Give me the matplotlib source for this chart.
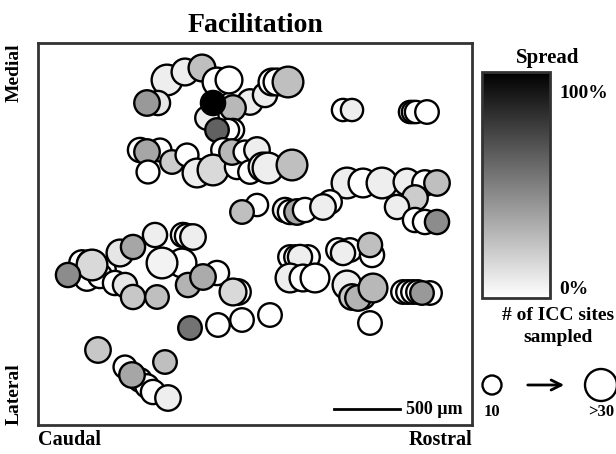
import numpy as np
import matplotlib
matplotlib.use("Agg")
import matplotlib.pyplot as plt
from matplotlib.colors import Normalize
from matplotlib.cm import ScalarMappable

plt.rcParams['font.family'] = ['Liberation Serif', 'DejaVu Serif']
plt.rcParams['font.weight'] = 'bold'

# Recording sites on the map (map units, 66 units = 500 um)
x_pos = [129, 147, 164, 179, 191, 120, 109, 169, 212, 195, 175, 195, 190, 179, 227,
         234, 239, 250, 305, 314, 372, 375, 378, 389,
         102, 122, 109, 110, 134, 149, 159, 185, 175, 199, 194, 207, 212, 219, 225, 230, 254,
         309, 325, 344, 369, 387, 399, 377, 359, 377, 387, 399,
         219, 204, 247, 252, 259, 267, 292, 285,
         117, 145, 149, 155, 44, 65, 49, 62, 52, 54, 30, 82, 95, 77, 87, 95, 119, 144, 124,
         179, 150, 165, 200, 195, 152, 180, 204, 232, 60, 127, 87, 102, 109, 94, 115, 130,
         252, 258, 270, 262, 252, 265, 277, 300, 312, 334, 305, 332, 309, 325, 314, 320, 335,
         365, 370, 375, 380, 392, 384, 332]
y_pos = [345, 353, 357, 343, 345, 322, 322, 307, 323, 317, 322, 295, 295, 295, 330,
         343, 343, 343, 315, 315, 313, 313, 313, 313,
         275, 275, 273, 253, 263, 270, 252, 275, 255, 258, 273, 273, 253, 275, 258, 257, 260,
         242, 242, 242, 243, 242, 242, 227, 218, 205, 203, 203,
         220, 213, 215, 213, 213, 215, 223, 218,
         190, 190, 189, 188, 162, 155, 147, 149, 162, 160, 150, 172, 178, 142, 140, 128, 128, 162, 162,
         152, 140, 148, 133, 133, 97, 100, 105, 110, 75, 63, 58, 45, 39, 50, 33, 27,
         168, 168, 168, 168, 147, 147, 147, 175, 175, 170, 172, 180, 140, 128, 128, 127, 137,
         133, 133, 133, 133, 132, 132, 102]
n_sites = [28, 22, 22, 25, 22, 18, 20, 17, 20, 20, 18, 15, 15, 17, 18,
           22, 22, 28, 15, 15, 15, 15, 15, 17,
           18, 16, 20, 16, 17, 16, 25, 17, 28, 18, 20, 16, 17, 20, 25, 28, 28,
           28, 25, 28, 22, 20, 20, 20, 18, 18, 18, 18,
           15, 17, 18, 18, 20, 18, 17, 20,
           18, 18, 18, 20, 20, 20, 20, 18, 20, 28, 18, 22, 18, 18, 18, 18, 17, 25, 28,
           18, 18, 20, 20, 22, 17, 17, 17, 17, 20, 17, 16, 17, 17, 20, 18, 20,
           17, 17, 17, 18, 25, 22, 25, 17, 17, 18, 18, 18, 25, 18, 20, 20, 25,
           17, 17, 17, 17, 17, 17, 17]
spread = [0.07, 0.07, 0.25, 0.0, 0.0, 0.10, 0.40, 0.07, 0.07, 0.28, 1.0, 0.0, 0.0, 0.62, 0.07,
          0.0, 0.0, 0.25, 0.0, 0.07, 0.0, 0.0, 0.0, 0.0,
          0.0, 0.0, 0.35, 0.0, 0.20, 0.0, 0.07, 0.0, 0.15, 0.0, 0.28, 0.0, 0.0, 0.07, 0.07, 0.07, 0.25,
          0.07, 0.0, 0.07, 0.07, 0.0, 0.25, 0.20, 0.07, 0.0, 0.0, 0.45,
          0.0, 0.25, 0.07, 0.0, 0.35, 0.0, 0.0, 0.07,
          0.07, 0.0, 0.0, 0.07, 0.0, 0.0, 0.0, 0.0, 0.0, 0.15, 0.45, 0.10, 0.35, 0.0, 0.10, 0.22, 0.25,
          0.0, 0.05,
          0.0, 0.30, 0.33, 0.0, 0.15, 0.55, 0.0, 0.0, 0.0, 0.22, 0.25, 0.0, 0.0, 0.0, 0.35, 0.0, 0.07,
          0.0, 0.0, 0.0, 0.07, 0.07, 0.0, 0.0, 0.0, 0.0, 0.0, 0.07, 0.25, 0.07, 0.0, 0.22, 0.30, 0.28,
          0.0, 0.0, 0.0, 0.0, 0.0, 0.40, 0.0]

DPI = 100
cmap = plt.get_cmap('gray_r')
norm = Normalize(0, 1)


def marker_area(n):
    # circle diameter grows with number of sites (10 -> >30)
    n = np.clip(np.asarray(n, dtype=float), 10, 30)
    d_px = 19 + (n - 10) * 0.65
    return (d_px * 72 / DPI) ** 2


fig = plt.figure(figsize=(6.16, 4.54), dpi=DPI)

ax = fig.add_axes([38 / 616, 29 / 454, 434 / 616, 382 / 454])
ax.scatter(x_pos, y_pos, s=marker_area(n_sites), c=spread, cmap=cmap, norm=norm,
           edgecolors='black', linewidths=1.7, zorder=3)
ax.set_xlim(0, 434)
ax.set_ylim(0, 382)
ax.set_xticks([])
ax.set_yticks([])
for sp in ax.spines.values():
    sp.set_linewidth(2.0)
    sp.set_color('#333333')

# scale bar
ax.plot([296, 362], [16, 16], color='black', lw=2)
ax.text(368, 16, '500 \u00b5m', fontsize=13, va='center', ha='left')

ax.set_title('Facilitation', fontsize=20, fontweight='bold', pad=8)
fig.text(38 / 616, 1 - 440 / 454, 'Caudal', fontsize=14.5, ha='left', va='center')
fig.text(472 / 616, 1 - 440 / 454, 'Rostral', fontsize=14.5, ha='right', va='center')
fig.text(14 / 616, 1 - 43 / 454, 'Medial', fontsize=14, rotation=90, ha='center', va='top')
fig.text(14 / 616, 1 - 425 / 454, 'Lateral', fontsize=14, rotation=90, ha='center', va='bottom')

# spread colour scale
cax = fig.add_axes([482 / 616, 1 - 298 / 454, 68 / 616, 226 / 454])
cb = fig.colorbar(ScalarMappable(norm=norm, cmap=cmap), cax=cax)
cb.set_ticks([])
cb.outline.set_linewidth(2.0)
cb.outline.set_edgecolor('#333333')
fig.text(548 / 616, 1 - 58 / 454, 'Spread', fontsize=15, ha='center', va='center')
fig.text(559 / 616, 1 - 94 / 454, '100%', fontsize=14, ha='left', va='center')
fig.text(559 / 616, 1 - 289 / 454, '0%', fontsize=14, ha='left', va='center')

# size legend
fig.text(558 / 616, 1 - 315 / 454, '# of ICC sites', fontsize=14, ha='center', va='center')
fig.text(558 / 616, 1 - 338 / 454, 'sampled', fontsize=14, ha='center', va='center')
lax = fig.add_axes([0, 0, 1, 1], facecolor='none')
lax.set_xlim(0, 616)
lax.set_ylim(454, 0)
lax.axis('off')
lax.scatter([492, 601], [385, 385], s=marker_area([10, 30]), facecolors='white',
            edgecolors='black', linewidths=1.7, clip_on=False)
lax.annotate('', xy=(567, 385), xytext=(525, 385),
             arrowprops=dict(arrowstyle='->', lw=2, color='black', mutation_scale=18))
lax.text(492, 412, '10', fontsize=12, ha='center', va='center')
lax.text(601, 412, '>30', fontsize=12, ha='center', va='center')

fig.savefig('out.png', dpi=DPI)
